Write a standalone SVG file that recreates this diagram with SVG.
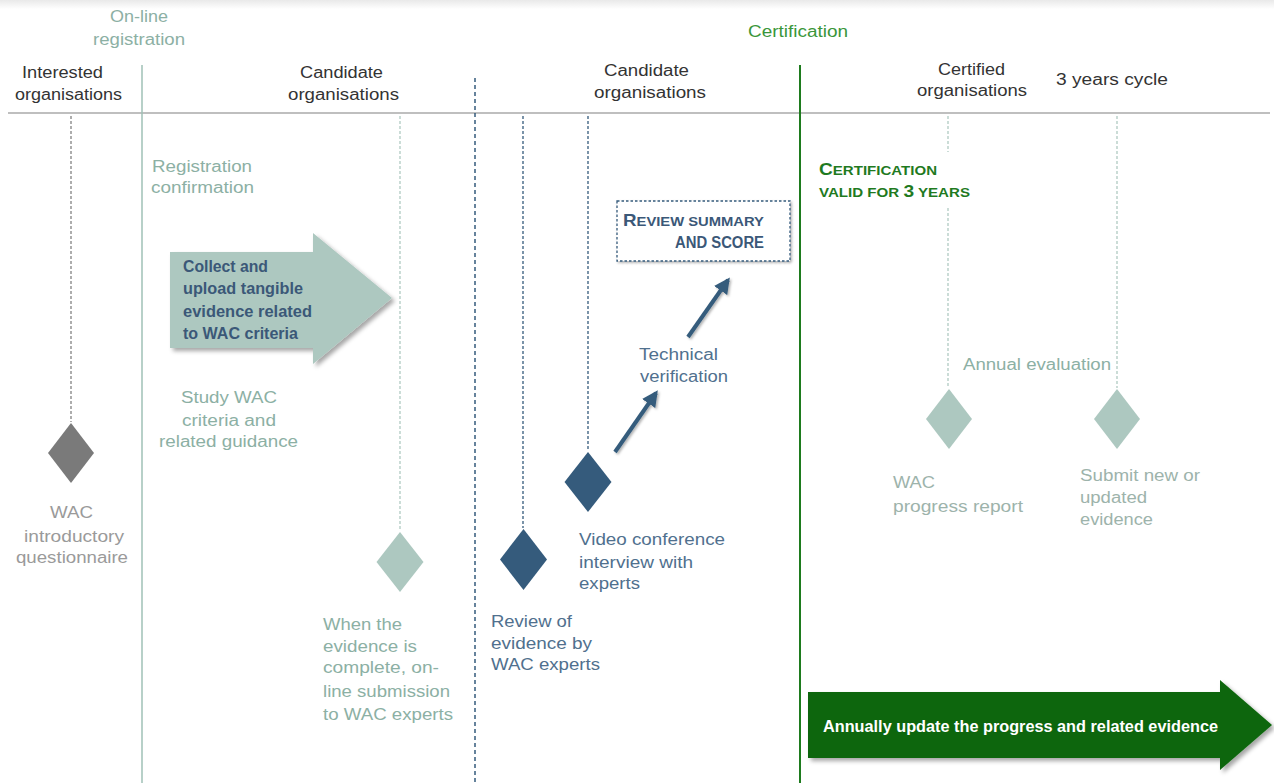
<svg xmlns="http://www.w3.org/2000/svg" width="1274" height="783" viewBox="0 0 1274 783">
<defs>
<linearGradient id="topg" x1="0" y1="0" x2="0" y2="1"><stop offset="0" stop-color="#e9e9e9"/><stop offset="1" stop-color="#ffffff"/></linearGradient>
<filter id="sh" x="-10%" y="-10%" width="130%" height="130%"><feDropShadow dx="3" dy="3" stdDeviation="2" flood-color="#000" flood-opacity="0.35"/></filter>
<filter id="sh2" x="-30%" y="-30%" width="160%" height="160%"><feDropShadow dx="1.5" dy="1.5" stdDeviation="1" flood-color="#000" flood-opacity="0.3"/></filter>
<marker id="ah" viewBox="0 0 10 10" refX="8" refY="5" markerWidth="4" markerHeight="4" orient="auto" markerUnits="strokeWidth"><path d="M0,0 L10,5 L0,10 z" fill="#355b7c"/></marker>
<style>
text{font-family:"Liberation Sans",Arial,sans-serif;font-size:16px}
.hd{fill:#333}
.tl{fill:#8cb0a4}
.gr{fill:#9a9a9a}
.bl{fill:#50708e}
.bd{font-weight:bold;font-size:16.5px}
.sc{font-weight:bold}
.dotg{stroke:#777;stroke-width:1.2;stroke-dasharray:3 2;fill:none}
.dott{stroke:#a9c6bd;stroke-width:1.2;stroke-dasharray:3 2;fill:none}
.dotb{stroke:#355b7c;stroke-width:1.3;stroke-dasharray:3 2;fill:none}
.dgrey{fill:#7a7a7a}
.dteal{fill:#adc8c0}
.dblue{fill:#355b7c}
</style>
</defs>
<rect x="0" y="0" width="1274" height="783" fill="#fff"/>
<rect x="0" y="0" width="1274" height="9" fill="url(#topg)"/>

<g id="frame">
<line x1="8" y1="113" x2="1270" y2="113" stroke="#aaa" stroke-width="1.5"/>
<line x1="142" y1="65" x2="142" y2="783" stroke="#9fc0b6" stroke-width="1.5"/>
<line x1="475" y1="78" x2="475" y2="783" stroke="#355b7c" stroke-width="1.5" stroke-dasharray="4 3"/>
<line x1="800" y1="65" x2="800" y2="783" stroke="#1e7b1e" stroke-width="2"/>
</g>

<g id="headers">
<text class="tl" x="110" y="22" textLength="58" lengthAdjust="spacingAndGlyphs">On-line</text>
<text class="tl" x="93" y="45" textLength="92" lengthAdjust="spacingAndGlyphs">registration</text>
<text x="748" y="37" fill="#3a963a" textLength="100" lengthAdjust="spacingAndGlyphs">Certification</text>
<text class="hd" x="22" y="78" textLength="81" lengthAdjust="spacingAndGlyphs">Interested</text>
<text class="hd" x="15" y="100" textLength="107" lengthAdjust="spacingAndGlyphs">organisations</text>
<text class="hd" x="300" y="78" textLength="83" lengthAdjust="spacingAndGlyphs">Candidate</text>
<text class="hd" x="288" y="100" textLength="111" lengthAdjust="spacingAndGlyphs">organisations</text>
<text class="hd" x="604" y="76" textLength="85" lengthAdjust="spacingAndGlyphs">Candidate</text>
<text class="hd" x="594" y="98" textLength="112" lengthAdjust="spacingAndGlyphs">organisations</text>
<text class="hd" x="938" y="75" textLength="67" lengthAdjust="spacingAndGlyphs">Certified</text>
<text class="hd" x="917" y="96" textLength="110" lengthAdjust="spacingAndGlyphs">organisations</text>
<text class="hd" x="1056" y="85" textLength="112" lengthAdjust="spacingAndGlyphs">3 years cycle</text>
</g>

<g id="connectors">
<line class="dotg" x1="71" y1="116" x2="71" y2="422"/>
<line class="dott" x1="400" y1="116" x2="400" y2="531"/>
<line class="dotb" x1="523" y1="116" x2="523" y2="528"/>
<line class="dotb" x1="588" y1="116" x2="588" y2="451"/>
<line class="dott" x1="948" y1="116" x2="948" y2="152"/>
<line class="dott" x1="948" y1="208" x2="948" y2="388"/>
<line class="dott" x1="1117" y1="116" x2="1117" y2="388"/>
<g filter="url(#sh2)">
<line x1="615" y1="452" x2="656" y2="393" stroke="#355b7c" stroke-width="4" marker-end="url(#ah)"/>
<line x1="688" y1="337" x2="728" y2="280" stroke="#355b7c" stroke-width="4" marker-end="url(#ah)"/>
</g>
</g>

<g id="registration-confirmation">
<text class="tl" x="152" y="172" textLength="100" lengthAdjust="spacingAndGlyphs">Registration</text>
<text class="tl" x="151" y="193" textLength="103" lengthAdjust="spacingAndGlyphs">confirmation</text>
</g>

<g id="collect-arrow">
<path d="M170,252 L313,252 L313,233 L392,298 L313,364 L313,348 L170,348 Z" fill="#adc8c0" filter="url(#sh)"/>
<g fill="#3b5878">
<text class="bd" x="183" y="272" textLength="85" lengthAdjust="spacingAndGlyphs">Collect and</text>
<text class="bd" x="183" y="294" textLength="120" lengthAdjust="spacingAndGlyphs">upload tangible</text>
<text class="bd" x="183" y="317" textLength="129" lengthAdjust="spacingAndGlyphs">evidence related</text>
<text class="bd" x="183" y="339" textLength="115" lengthAdjust="spacingAndGlyphs">to WAC criteria</text>
</g>
</g>

<g id="study">
<text class="tl" x="181" y="403" textLength="96" lengthAdjust="spacingAndGlyphs">Study WAC</text>
<text class="tl" x="182" y="426" textLength="94" lengthAdjust="spacingAndGlyphs">criteria and</text>
<text class="tl" x="159" y="447" textLength="139" lengthAdjust="spacingAndGlyphs">related guidance</text>
</g>

<g id="questionnaire">
<path class="dgrey" d="M71,423 L94,453 L71,483 L48,453 Z"/>
<text class="gr" x="50" y="518" textLength="43" lengthAdjust="spacingAndGlyphs">WAC</text>
<text class="gr" x="24" y="542" textLength="100" lengthAdjust="spacingAndGlyphs">introductory</text>
<text class="gr" x="16" y="563" textLength="112" lengthAdjust="spacingAndGlyphs">questionnaire</text>
</g>

<g id="submission">
<path class="dteal" d="M400,532 L423.5,562 L400,592 L376.5,562 Z"/>
<text class="tl" x="323" y="630" textLength="79" lengthAdjust="spacingAndGlyphs">When the</text>
<text class="tl" x="323" y="652" textLength="94" lengthAdjust="spacingAndGlyphs">evidence is</text>
<text class="tl" x="323" y="673" textLength="116" lengthAdjust="spacingAndGlyphs">complete, on-</text>
<text class="tl" x="323" y="697" textLength="127" lengthAdjust="spacingAndGlyphs">line submission</text>
<text class="tl" x="323" y="720" textLength="130" lengthAdjust="spacingAndGlyphs">to WAC experts</text>
</g>

<g id="review-evidence">
<path class="dblue" d="M523.5,529 L547,559.5 L523.5,590 L500,559.5 Z"/>
<text class="bl" x="491" y="627" textLength="81" lengthAdjust="spacingAndGlyphs">Review of</text>
<text class="bl" x="491" y="649" textLength="101" lengthAdjust="spacingAndGlyphs">evidence by</text>
<text class="bl" x="491" y="670" textLength="109" lengthAdjust="spacingAndGlyphs">WAC experts</text>
</g>

<g id="video-interview">
<path class="dblue" d="M588,452 L611.5,482 L588,512 L564.5,482 Z"/>
<text class="bl" x="579" y="545" textLength="146" lengthAdjust="spacingAndGlyphs">Video conference</text>
<text class="bl" x="579" y="568" textLength="114" lengthAdjust="spacingAndGlyphs">interview with</text>
<text class="bl" x="579" y="589" textLength="61" lengthAdjust="spacingAndGlyphs">experts</text>
</g>

<g id="technical-verification">
<text class="bl" x="639" y="360" textLength="79" lengthAdjust="spacingAndGlyphs">Technical</text>
<text class="bl" x="640" y="382" textLength="88" lengthAdjust="spacingAndGlyphs">verification</text>
</g>

<g id="review-summary">
<rect x="617" y="201" width="173" height="60" fill="#fff" stroke="#355b7c" stroke-width="1.3" stroke-dasharray="2.5 2" filter="url(#sh2)"/>
<text class="sc" x="623" y="226" fill="#3b5878" textLength="141" lengthAdjust="spacingAndGlyphs"><tspan font-size="16.5">R</tspan><tspan font-size="13">EVIEW SUMMARY</tspan></text>
<text class="sc" x="675" y="248" fill="#3b5878" font-size="13" textLength="89" lengthAdjust="spacingAndGlyphs">AND SCORE</text>
</g>

<g id="certification-valid">
<text class="sc" x="819" y="175" fill="#1f7a1f" textLength="118" lengthAdjust="spacingAndGlyphs"><tspan font-size="16.5">C</tspan><tspan font-size="13">ERTIFICATION</tspan></text>
<text class="sc" x="819" y="197" fill="#1f7a1f" textLength="151" lengthAdjust="spacingAndGlyphs"><tspan font-size="13">VALID FOR </tspan><tspan font-size="16.5">3</tspan><tspan font-size="13"> YEARS</tspan></text>
</g>

<g id="annual-evaluation">
<text class="tl" x="963" y="370" textLength="148" lengthAdjust="spacingAndGlyphs">Annual evaluation</text>
</g>

<g id="progress-report">
<path class="dteal" d="M949,389 L972,419 L949,449 L926,419 Z"/>
<text x="893" y="488" fill="#9db3ab" textLength="42" lengthAdjust="spacingAndGlyphs">WAC</text>
<text x="893" y="512" fill="#9db3ab" textLength="130" lengthAdjust="spacingAndGlyphs">progress report</text>
</g>

<g id="submit-evidence">
<path class="dteal" d="M1117,389 L1140,419 L1117,449 L1094,419 Z"/>
<text x="1080" y="481" fill="#9db3ab" textLength="120" lengthAdjust="spacingAndGlyphs">Submit new or</text>
<text x="1080" y="503" fill="#9db3ab" textLength="67" lengthAdjust="spacingAndGlyphs">updated</text>
<text x="1080" y="525" fill="#9db3ab" textLength="73" lengthAdjust="spacingAndGlyphs">evidence</text>
</g>

<g id="annual-update-arrow">
<path d="M808,692 L1220,692 L1220,680 L1272,725 L1220,770 L1220,758 L808,758 Z" fill="#0a660a" filter="url(#sh)"/>
<text class="bd" x="823" y="732" fill="#fff" textLength="395" lengthAdjust="spacingAndGlyphs">Annually update the progress and related evidence</text>
</g>
</svg>
